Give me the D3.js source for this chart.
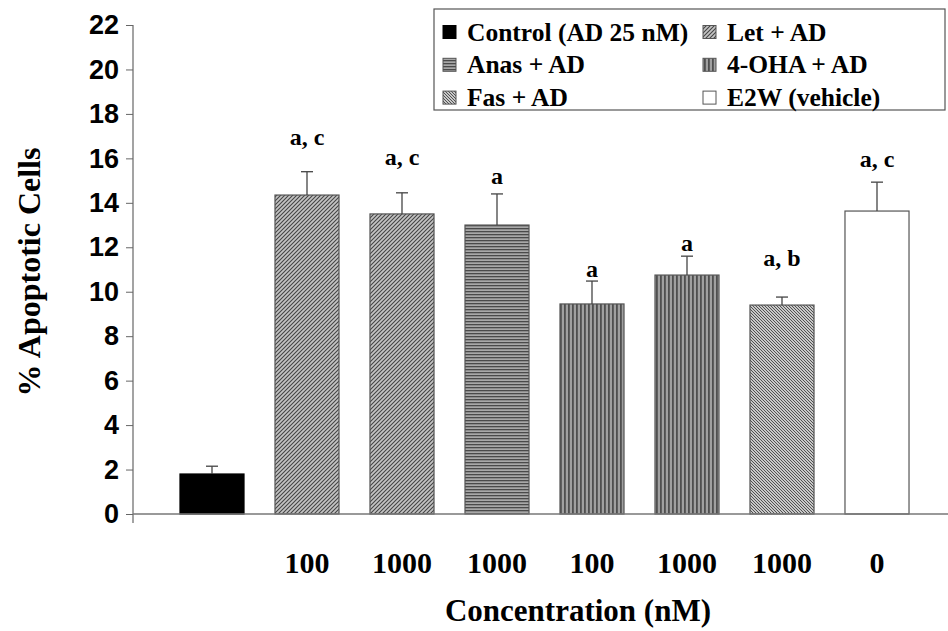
<!DOCTYPE html>
<html><head><meta charset="utf-8">
<script src="https://cdn.jsdelivr.net/npm/d3@7"></script>
<style>body{margin:0;background:#fff}svg{display:block}</style>
</head><body>
<svg id="c" width="948" height="631"></svg>
<script>
// ---- data ----
const groups = ["control","let","let","anas","oha","oha","fas","e2w"];
const concLabels = ["", "100", "1000", "1000", "100", "1000", "1000", "0"];
const values = [1.8, 14.35, 13.5, 13.0, 9.45, 10.75, 9.4, 13.63];
const errors = [0.35, 1.05, 0.95, 1.4, 1.03, 0.85, 0.36, 1.3];
const annoTexts = ["", "a, c", "a, c", "a", "a", "a", "a, b", "a, c"];
const annoLevels = [0, 16.6, 15.7, 14.85, 10.66, 11.83, 11.16, 15.6];
const yTicks = [0,2,4,6,8,10,12,14,16,18,20,22];
const legendKeys = ["control","let","anas","oha","fas","e2w"];
const legendLabels = ["Control (AD 25 nM)","Let + AD","Anas + AD","4-OHA + AD","Fas + AD","E2W (vehicle)"];

const svg = d3.select("#c");
const serif = "'Liberation Serif','Times New Roman',serif";
const sans = "'Liberation Sans',Arial,sans-serif";

// patterns
const defs = svg.append("defs");
function pat(id, w, h, draw){
  const p = defs.append("pattern").attr("id",id).attr("patternUnits","userSpaceOnUse").attr("width",w).attr("height",h);
  draw(p);
}
pat("p-let",4,4,p=>{
  p.append("rect").attr("width",4).attr("height",4).attr("fill","#c4c4c4");
  p.append("path").attr("d","M0,4 L4,0 M-1,1 L1,-1 M3,5 L5,3").attr("stroke","#444").attr("stroke-width",1.1);
});
pat("p-fas",3,3,p=>{
  p.append("rect").attr("width",3).attr("height",3).attr("fill","#c8c8c8");
  p.append("path").attr("d","M0,0 L3,3 M-1,2 L1,4 M2,-1 L4,1").attr("stroke","#444").attr("stroke-width",0.9);
});
pat("p-anas",3,3,p=>{
  p.append("rect").attr("width",3).attr("height",3).attr("fill","#a8a8a8");
  p.append("rect").attr("width",3).attr("height",1.3).attr("fill","#4a4a4a");
});
pat("p-oha",4,4,p=>{
  p.append("rect").attr("width",4).attr("height",4).attr("fill","#a0a0a0");
  p.append("rect").attr("width",1.8).attr("height",4).attr("fill","#4f4f4f");
});
const fills = {control:"#000", let:"url(#p-let)", anas:"url(#p-anas)", oha:"url(#p-oha)", fas:"url(#p-fas)", e2w:"#fff"};

// scales
const x = d3.scaleBand().domain(d3.range(values.length)).range([164.5, 924.5]).paddingInner(0.326).paddingOuter(0.163);
const y = d3.scaleLinear().domain([0,22]).range([514,25]);

// y axis
const ya = svg.append("g").attr("transform","translate(133,0)")
  .call(d3.axisLeft(y).tickValues(yTicks).tickSize(7).tickPadding(7));
ya.select(".domain").remove();
ya.selectAll(".tick line").attr("stroke","#666");
ya.selectAll(".tick text").attr("font-family",sans).attr("font-weight","bold").attr("font-size",27).attr("fill","#000");
svg.append("line").attr("x1",133).attr("x2",133).attr("y1",y(22)).attr("y2",523).attr("stroke","#666").attr("stroke-width",1.2);

// bars
svg.append("g").selectAll("rect").data(values).join("rect")
  .attr("x",(d,i)=>x(i)).attr("width",x.bandwidth())
  .attr("y",d=>y(d)).attr("height",d=>y(0)-y(d))
  .attr("fill",(d,i)=>fills[groups[i]])
  .attr("stroke",(d,i)=>groups[i]==="control"?"#000":"#555").attr("stroke-width",1.2);

// error bars
const eb = svg.append("g").attr("stroke","#444").attr("stroke-width",1.3);
values.forEach((v,i)=>{
  const cx = x(i)+x.bandwidth()/2;
  eb.append("line").attr("x1",cx).attr("x2",cx).attr("y1",y(v)).attr("y2",y(v+errors[i]));
  eb.append("line").attr("x1",cx-6).attr("x2",cx+6).attr("y1",y(v+errors[i])).attr("y2",y(v+errors[i]));
});

// annotations
svg.append("g").selectAll("text").data(annoTexts).join("text")
  .attr("x",(d,i)=>x(i)+x.bandwidth()/2).attr("y",(d,i)=>y(annoLevels[i]))
  .attr("text-anchor","middle").attr("font-family",serif).attr("font-weight","bold").attr("font-size",24)
  .text(d=>d);

// x axis
const xa = svg.append("g").attr("transform","translate(0,514)")
  .call(d3.axisBottom(x).tickSize(0).tickPadding(38).tickFormat(i=>concLabels[i]));
xa.select(".domain").remove();
xa.selectAll(".tick text").attr("font-family",serif).attr("font-weight","bold").attr("font-size",30).attr("fill","#000");
svg.append("line").attr("x1",133).attr("x2",948).attr("y1",514).attr("y2",514).attr("stroke","#777").attr("stroke-width",1.5);

// axis titles
svg.append("text").attr("x",578).attr("y",621).attr("text-anchor","middle")
  .attr("font-family",serif).attr("font-weight","bold").attr("font-size",31).text("Concentration (nM)");
svg.append("text").attr("transform","translate(40,272) rotate(-90)").attr("text-anchor","middle")
  .attr("font-family",serif).attr("font-weight","bold").attr("font-size",32).text("% Apoptotic Cells");

// legend
const lg = svg.append("g");
lg.append("rect").attr("x",434).attr("y",9).attr("width",511).attr("height",101).attr("fill","#fff").attr("stroke","#555").attr("stroke-width",1.2);
legendKeys.forEach((k,i)=>{
  const col = i%2, row = Math.floor(i/2);
  const sx = col===0?443:703, cy = 32+row*32.8;
  lg.append("rect").attr("x",sx).attr("y",cy-6.5).attr("width",13).attr("height",13)
    .attr("fill",fills[k]).attr("stroke",k==="control"?"#000":"#555").attr("stroke-width",1);
  lg.append("text").attr("x",sx+24).attr("y",cy+8.5).attr("font-family",serif).attr("font-weight","bold").attr("font-size",25.5).text(legendLabels[i]);
});
</script>
</body></html>
